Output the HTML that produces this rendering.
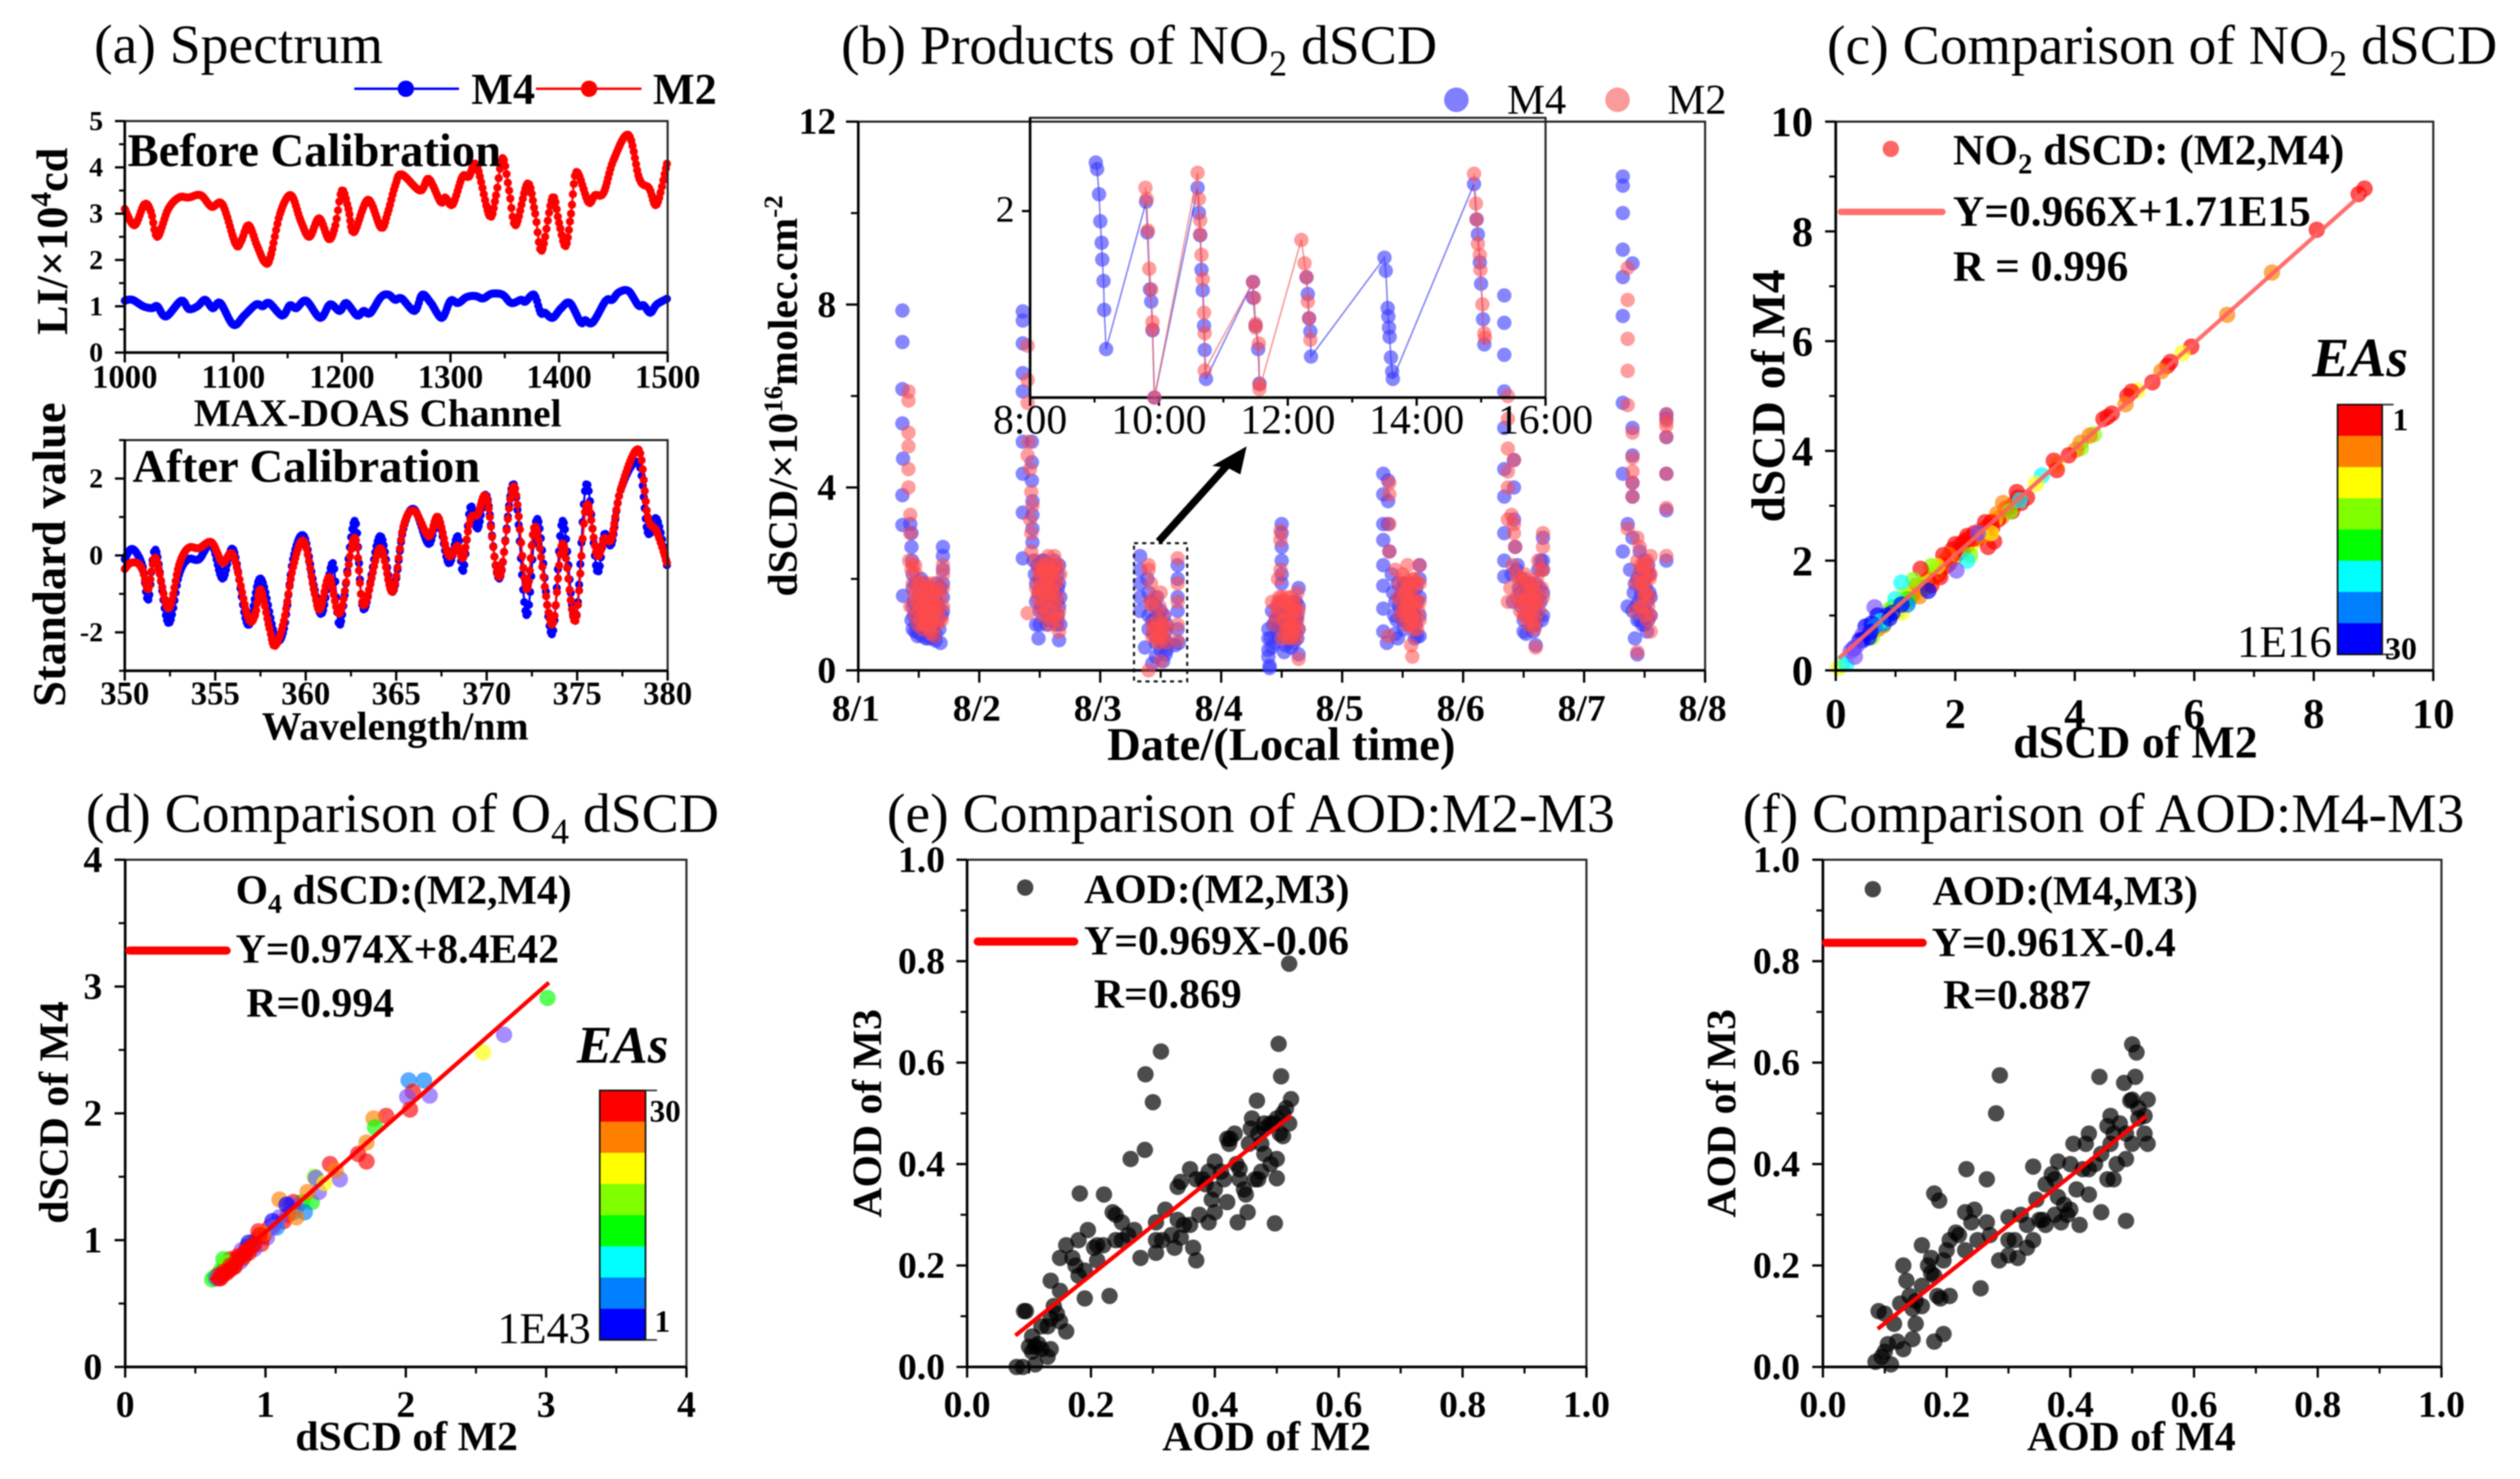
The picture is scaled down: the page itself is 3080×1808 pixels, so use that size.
<!DOCTYPE html>
<html lang="en">
<head>
<meta charset="utf-8">
<title>MAX-DOAS comparison figure</title>
<style>
html,body{margin:0;padding:0;background:#fff;}
svg{display:block;filter:blur(.7px);}
text{font-family:"Liberation Serif",serif;fill:#000;}
.r{font-weight:400;}
.b{font-weight:700;}
.title{font-size:68px;font-weight:400;}
</style>
</head>
<body>
<svg id="figure" xmlns="http://www.w3.org/2000/svg" width="3080" height="1808" viewBox="0 0 3080 1808">
<rect width="3080" height="1808" fill="#fff"/>

<g id="panelA">
<text class="title" x="115" y="77">(a) Spectrum</text>
<line x1="433" x2="561" y1="108.5" y2="108.5" stroke="#0000ff" stroke-width="3"/>
<circle cx="496" cy="108.5" r="10" fill="#0000ff"/>
<text class="b" x="576" y="127" font-size="54">M4</text>
<line x1="655" x2="784" y1="108.5" y2="108.5" stroke="#ff0000" stroke-width="3"/>
<circle cx="720" cy="108.5" r="10" fill="#ff0000"/>
<text class="b" x="798" y="127" font-size="54">M2</text>
<text class="b" font-size="54" text-anchor="middle" transform="translate(82 295) rotate(-90)">LI/×10<tspan font-size="36" dy="-20">4</tspan><tspan dy="20">cd</tspan></text>
<text class="b" font-size="57" text-anchor="middle" transform="translate(79.5 678) rotate(-90)">Standard value</text>
<text class="b" font-size="48" text-anchor="middle" x="461.6" y="521">MAX-DOAS Channel</text>
<text class="b" font-size="48.5" text-anchor="middle" x="483" y="904">Wavelength/nm</text>
</g>

<g id="panelB">
<text class="title" x="1028" y="78">(b) Products of NO<tspan font-size="44" dy="14">2</tspan><tspan dy="-14"> dSCD</tspan></text>
<circle cx="1780" cy="122" r="15" fill="#7f7fff"/>
<text class="r" x="1842" y="139" font-size="52">M4</text>
<circle cx="1977" cy="122" r="15" fill="#fa9a9a"/>
<text class="r" x="2038" y="139" font-size="52">M2</text>
<text class="b" font-size="51" text-anchor="middle" transform="translate(974 484) rotate(-90)">dSCD/×10<tspan font-size="33" dy="-18">16</tspan><tspan dy="18">molec.cm</tspan><tspan font-size="33" dy="-18">-2</tspan></text>
<text class="b" font-size="57" text-anchor="middle" x="1566" y="929">Date/(Local time)</text>
</g>

<g id="panelC">
<text class="title" x="2233" y="78">(c) Comparison of NO<tspan font-size="44" dy="14">2</tspan><tspan dy="-14"> dSCD</tspan></text>
<text class="b" font-size="58" text-anchor="middle" transform="translate(2181 484) rotate(-90)">dSCD of M4</text>
<text class="b" font-size="56" text-anchor="middle" x="2610" y="926">dSCD of M2</text>
</g>

<g id="panelD">
<text class="title" x="105" y="1017">(d) Comparison of O<tspan font-size="44" dy="14">4</tspan><tspan dy="-14"> dSCD</tspan></text>
<text class="b" font-size="51" text-anchor="middle" transform="translate(83 1360) rotate(-90)">dSCD of M4</text>
<text class="b" font-size="51" text-anchor="middle" x="497" y="1773">dSCD of M2</text>
</g>

<g id="panelE">
<text class="title" x="1084" y="1017">(e) Comparison of AOD:M2-M3</text>
<text class="b" font-size="51" text-anchor="middle" transform="translate(1077 1361) rotate(-90)">AOD of M3</text>
<text class="b" font-size="51" text-anchor="middle" x="1548" y="1773">AOD of M2</text>
</g>

<g id="panelF">
<text class="title" x="2130" y="1017">(f) Comparison of AOD:M4-M3</text>
<text class="b" font-size="51" text-anchor="middle" transform="translate(2121 1361) rotate(-90)">AOD of M3</text>
<text class="b" font-size="51" text-anchor="middle" x="2605" y="1773">AOD of M4</text>
</g>
</svg>

<script>
/* ---------- panel a data ---------- */
const beforeM2 = [[1000,3.1],[1009,2.75],[1018,3.2],[1024,3.05],[1030,2.5],[1040,3.1],[1050,3.35],[1059,3.35],[1070,3.4],[1080,3.15],[1090,3.2],[1102,2.35],[1107,2.4],[1114,2.75],[1122,2.3],[1129,1.95],[1134,2.05],[1143,3.0],[1153,3.4],[1162,2.85],[1170,2.5],[1179,2.9],[1188,2.45],[1194,2.75],[1200,3.5],[1206,3.1],[1211,2.6],[1224,3.3],[1236,2.7],[1242,3.0],[1249,3.6],[1255,3.85],[1272,3.5],[1280,3.75],[1291,3.25],[1295,3.35],[1302,3.2],[1311,3.8],[1317,3.8],[1324,4.05],[1336,2.95],[1342,3.4],[1348,4.2],[1354,3.5],[1360,2.75],[1371,3.65],[1378,3.0],[1384,2.2],[1394,3.35],[1400,2.8],[1406,2.3],[1411,3.0],[1416,3.9],[1427,3.25],[1433,3.4],[1441,3.45],[1450,4.15],[1464,4.7],[1474,3.75],[1483,3.55],[1490,3.2],[1500,4.15]];
const beforeM4 = [[1000,1.12],[1007,1.14],[1017,1.0],[1025,.96],[1030,1.0],[1038,.78],[1052,1.12],[1059,.94],[1067,1.0],[1074,1.14],[1081,.96],[1088,1.07],[1100,.6],[1110,.8],[1121,1.04],[1127,1.0],[1133,1.07],[1145,.8],[1152,1.02],[1158,.96],[1167,1.12],[1180,.75],[1189,1.04],[1198,.9],[1204,1.07],[1214,.8],[1220,.9],[1226,.85],[1236,1.2],[1243,1.25],[1249,1.14],[1255,1.17],[1267,.9],[1274,1.25],[1282,1.07],[1292,.75],[1300,1.12],[1307,1.07],[1315,1.2],[1323,1.22],[1330,1.17],[1338,1.27],[1348,1.25],[1356,1.07],[1365,1.14],[1369,1.1],[1377,1.25],[1383,.86],[1387,.86],[1394,.75],[1402,.96],[1410,1.07],[1420,.65],[1424,.7],[1431,.65],[1443,1.12],[1449,1.14],[1455,1.3],[1464,1.33],[1473,1.02],[1478,1.02],[1484,.86],[1490,1.04],[1500,1.17]];
const afterM4 = [[350,-.1],[350.3,.15],[350.6,.1],[351,-.3],[351.3,-1.15],[351.7,.15],[352.4,-1.75],[353,-.5],[353.5,-.1],[354.1,-.1],[354.8,.3],[355.4,-.6],[356,.15],[356.8,-1.8],[357.5,-.6],[358.3,-2.1],[358.8,-1.9],[359.3,-.1],[359.9,.5],[360.5,-.9],[360.9,-1.5],[361.5,-.2],[361.9,-1.8],[362.7,.9],[363.2,-1.4],[364.1,.5],[364.8,-.95],[365.4,.7],[366,1.2],[366.8,.3],[367.3,1.0],[367.9,-.2],[368.4,.5],[368.7,-.4],[369.1,1.25],[369.5,.7],[370,1.55],[370.7,-.6],[371.5,1.85],[372.2,-1.55],[372.8,.95],[373.6,-2.05],[374.2,.9],[374.9,-1.7],[375.5,1.85],[376.1,-.4],[376.5,.55],[376.9,.3],[377.4,1.7],[378.4,2.4],[378.9,.6],[379.4,.95],[380,-.35]];
const afterM2 = [[350,-.35],[350.3,-.2],[350.7,-.2],[351,-.4],[351.3,-.88],[351.7,-.06],[352.4,-1.38],[353,-.25],[353.5,.19],[354.1,.19],[354.8,.34],[355.4,-.19],[356,0],[356.8,-1.6],[357.2,-1.55],[357.5,-.88],[358,-1.9],[358.3,-2.35],[358.8,-1.7],[359.3,-.3],[359.9,.37],[360.5,-1],[360.8,-1.4],[361.3,-.56],[361.9,-1.5],[362.7,.46],[363.2,-1.3],[364.1,.19],[364.8,-.94],[365.4,.75],[366,1.16],[366.8,.5],[367.3,1.0],[367.9,0],[368.4,.25],[368.7,-.06],[369.1,.94],[369.5,1.06],[370,1.5],[370.7,-.56],[371.5,1.8],[372.2,-.88],[372.7,.75],[373.6,-1.8],[374.2,.31],[374.9,-1.7],[375.5,1.3],[376.1,0],[376.5,.44],[376.9,.44],[377.4,1.7],[378.4,2.75],[378.9,1.0],[379.4,.62],[380,-.25]];
const channelTicks = [1000,1100,1200,1300,1400,1500];
const channelLabels = ['1000','1100','1200','1300','1400','1500'];
const channelMinor = [1050,1150,1250,1350,1450];
const intensityTicks = [0,1,2,3,4,5];
const intensityLabels = ['0','1','2','3','4','5'];
const intensityMinor = [.5,1.5,2.5,3.5,4.5];
const wavelengthTicks = [350,355,360,365,370,375,380];
const wavelengthLabels = ['350','355','360','365','370','375','380'];
const wavelengthMinor = [352.5,357.5,362.5,367.5,372.5,377.5];
const standardTicks = [-2,0,2];
const standardLabels = ['-2','0','2'];
const standardMinor = [-3,-1,1,3];

/* ---------- panel b data: day fraction, dSCD ---------- */
const m4Day1 = [[.365,7.87],[.365,7.18],[.365,6.15],[.365,5.4],[.37,4.63],[.365,3.83],[.365,3.18],[.37,1.63],[.43,3.2],[.44,3.0],[.44,2.7],[.445,2.4],[.45,2.1],[.45,1.8],[.45,1.4],[.45,.9],[.47,.85],[.49,.75],[.5,1.2],[.5,1.6],[.52,2],[.54,1.4],[.55,.95],[.56,.7],[.58,1.7],[.6,1.2],[.62,.75],[.64,.65],[.65,1.5],[.68,.6],[.7,2.7],[.7,2.5],[.7,2.2],[.7,1.9],[.7,1.6],[.7,1.3],[.6,1.5],[.55,1.8],[.5,.9],[.44,1.1],[.46,1.5],[.46,1.2],[.47,1.9],[.48,1.0],[.48,1.4],[.49,.85],[.51,1.3],[.51,.8],[.52,1.6],[.52,1.1],[.53,.75],[.54,1.9],[.54,.9],[.55,1.3],[.56,1.6],[.56,1.1],[.57,.85],[.58,1.3],[.58,.7],[.59,1.6],[.6,.9],[.61,1.8],[.61,.7],[.62,1.2],[.63,1.6],[.63,1.0],[.64,.8],[.65,1.9],[.65,1.1],[.66,1.4],[.67,.9],[.68,1.8],[.69,1.2]];
const m4Day2 = [[.36,7.85],[.36,7.65],[.36,7.15],[.36,6.5],[.36,6.1],[.36,5.0],[.36,4.3],[.36,3.45],[.36,2.45],[.435,5.0],[.435,4.55],[.435,4.15],[.44,3.7],[.44,3.4],[.44,3.1],[.44,2.8],[.45,2.4],[.46,2.1],[.47,1.9],[.47,1.5],[.47,1.0],[.49,.7],[.5,1.3],[.5,2.0],[.52,2.4],[.53,1.6],[.55,1.9],[.56,1.0],[.57,2.3],[.58,1.5],[.6,2.0],[.6,1.2],[.62,2.4],[.63,1.7],[.64,1.0],[.65,2.1],[.66,.66],[.66,1.4],[.67,1.0],[.48,2.3],[.49,1.7],[.5,1.0],[.51,2.2],[.52,1.4],[.53,2.0],[.54,1.3],[.54,2.4],[.55,1.5],[.56,2.2],[.57,1.7],[.58,2.0],[.58,1.1],[.59,2.3],[.6,1.6],[.61,2.2],[.61,1.4],[.62,1.9],[.62,1.1],[.63,2.2],[.64,1.5],[.65,1.8],[.65,1.2],[.66,2.3],[.66,1.9],[.67,1.6]];
const m4Day3 = [[.33,2.5],[.33,2.2],[.33,1.9],[.33,1.6],[.33,1.3],[.39,2.0],[.4,1.7],[.4,1.2],[.4,.9],[.37,.5],[.43,.15],[.46,.3],[.46,.6],[.45,1.1],[.47,1.6],[.48,.9],[.5,.45],[.5,1.3],[.52,.2],[.54,.35],[.55,1.0],[.56,.6],[.64,2.3],[.64,2.0],[.64,1.6],[.64,1.3],[.64,.9],[.65,.6],[.62,.55],[.42,1.5],[.43,1.1],[.44,.8],[.46,1.4],[.48,1.2],[.49,.7],[.51,1.0],[.52,.7],[.53,1.2],[.53,.55],[.54,.85],[.55,.45]];
const m4Day4 = [[.39,.9],[.39,.7],[.39,.45],[.39,.3],[.4,.1],[.4,.05],[.5,3.2],[.5,3.0],[.5,2.7],[.5,2.4],[.5,2.1],[.5,1.9],[.5,1.5],[.42,1.3],[.43,1.0],[.44,.6],[.46,.85],[.47,1.4],[.49,1.2],[.52,.4],[.53,.8],[.55,1.3],[.56,.65],[.58,1.1],[.6,1.5],[.6,.6],[.62,1.1],[.64,1.8],[.64,1.4],[.64,.9],[.64,.35],[.41,.7],[.42,.5],[.45,1.1],[.47,.75],[.48,1.0],[.51,.9],[.52,1.2],[.53,.55],[.54,1.0],[.55,.75],[.57,1.3],[.57,.85],[.58,.5],[.59,.9],[.6,1.2],[.61,.8],[.62,1.5],[.63,.7],[.63,1.2]];
const m4Day5 = [[.34,4.3],[.34,3.85],[.34,3.2],[.34,2.85],[.34,2.3],[.34,1.85],[.34,1.35],[.34,.85],[.38,4.15],[.38,3.7],[.38,3.2],[.39,2.6],[.37,.6],[.41,2.1],[.42,1.7],[.43,1.2],[.44,.8],[.46,1.9],[.47,1.4],[.5,1.7],[.5,1.1],[.52,1.9],[.53,1.4],[.55,1.0],[.56,1.6],[.58,1.9],[.59,1.2],[.6,.7],[.62,1.5],[.64,2.3],[.64,2.0],[.64,1.6],[.64,1.2],[.64,.75],[.44,1.5],[.45,1.1],[.46,.7],[.48,1.6],[.49,1.2],[.5,1.4],[.51,1.9],[.51,.9],[.52,1.5],[.53,1.1],[.54,1.7],[.54,1.3],[.55,1.5],[.56,1.2],[.57,1.8],[.57,1.4],[.58,1.0],[.59,1.6],[.6,1.2],[.61,1.8],[.61,1.0],[.62,.75]];
const m4Day6 = [[.34,8.2],[.34,7.6],[.34,6.9],[.34,6.1],[.34,5.3],[.34,4.4],[.34,3.8],[.34,3.0],[.34,2.4],[.34,2.05],[.42,4.6],[.42,4.0],[.42,3.3],[.43,2.7],[.44,2.2],[.46,1.8],[.48,1.4],[.5,1.1],[.5,.85],[.52,.8],[.53,1.4],[.55,1.9],[.56,1.2],[.58,.85],[.6,1.6],[.6,.55],[.62,2.2],[.64,1.5],[.65,1.1],[.66,2.9],[.66,2.4],[.66,2.2],[.66,1.7],[.66,1.2],[.4,2.1],[.41,1.5],[.45,2.3],[.47,1.7],[.49,2.0],[.5,1.5],[.51,1.9],[.52,1.2],[.53,1.8],[.54,1.6],[.55,1.3],[.56,1.7],[.57,1.5],[.57,1.0],[.58,1.6],[.59,1.2],[.6,1.9],[.6,1.0],[.61,1.5],[.62,1.2],[.63,1.8],[.64,2.4]];
const m4Day7 = [[.32,10.8],[.32,10.6],[.32,10],[.32,9.2],[.32,8.6],[.32,7.75],[.32,5.85],[.32,4.3],[.32,2.6],[.4,8.9],[.4,5.3],[.4,4.7],[.4,4.1],[.4,3.8],[.36,3.2],[.4,2.9],[.36,1.4],[.38,2.2],[.4,1.3],[.42,.7],[.42,1.9],[.44,.35],[.44,1.1],[.46,2.6],[.47,1.7],[.48,1.0],[.5,2.0],[.51,1.3],[.52,.85],[.53,2.3],[.54,1.7],[.55,1.2],[.68,5.6],[.68,5.5],[.68,5.1],[.68,4.3],[.68,3.5],[.68,2.4],[.41,1.7],[.43,1.4],[.44,2.0],[.45,1.5],[.46,1.1],[.47,2.2],[.48,1.6],[.49,1.3],[.5,2.4],[.5,1.0],[.51,1.8],[.52,2.1],[.52,1.5],[.53,1.1],[.54,2.1],[.55,1.6]];
const m2Day1 = [[.415,6.1],[.415,5.9],[.415,5.2],[.415,4.9],[.415,4.4],[.415,4.0],[.43,3.4],[.43,3.0],[.42,2.4],[.44,2.2],[.45,1.9],[.43,1.4],[.47,2.3],[.49,1.7],[.5,1.3],[.52,1.9],[.54,1.0],[.55,1.5],[.57,1.9],[.58,1.1],[.6,.8],[.6,1.5],[.62,1.9],[.64,1.3],[.63,.75],[.66,1.8],[.7,2.3],[.7,2.1],[.7,1.8],[.7,1.4],[.69,1.1],[.55,1.2],[.58,1.4],[.6,1.2],[.45,2.3],[.46,1.7],[.47,1.2],[.48,2.1],[.48,1.5],[.49,1.0],[.5,1.9],[.5,1.5],[.51,1.1],[.52,1.6],[.53,1.3],[.53,.9],[.54,1.7],[.55,1.3],[.56,1.6],[.56,1.0],[.57,1.4],[.58,1.8],[.59,.9],[.6,1.7],[.6,1.0],[.61,1.3],[.62,1.6],[.62,1.1],[.63,1.4],[.64,1.7],[.65,1.0],[.66,1.4],[.67,1.1],[.68,1.6]];
const m2Day2 = [[.4,7.1],[.4,6.35],[.4,5.85],[.41,5.0],[.4,4.7],[.42,4.4],[.43,3.9],[.44,3.6],[.42,3.3],[.43,3.0],[.43,2.6],[.4,1.25],[.47,2.4],[.49,2.0],[.5,1.7],[.51,2.1],[.52,1.2],[.53,2.3],[.55,1.9],[.55,1.5],[.57,2.5],[.58,2.1],[.58,1.0],[.6,1.8],[.6,1.3],[.62,2.5],[.62,2.2],[.63,1.5],[.64,1.9],[.65,1.1],[.66,.85],[.67,2.1],[.47,1.8],[.54,1.9],[.56,2.2],[.48,1.6],[.49,2.2],[.5,1.4],[.51,1.8],[.52,2.2],[.52,1.7],[.53,1.4],[.54,2.2],[.55,2.3],[.56,1.7],[.56,1.2],[.57,2.0],[.58,1.7],[.59,2.2],[.59,1.5],[.6,2.1],[.61,1.7],[.61,1.1],[.62,1.9],[.63,2.3],[.64,1.2],[.65,2.3],[.65,1.6],[.66,1.3]];
const m2Day3 = [[.4,2.3],[.4,2.2],[.43,1.4],[.43,1.0],[.43,.75],[.5,1.7],[.5,.8],[.5,.2],[.45,1.6],[.47,1.1],[.48,.6],[.52,1.2],[.55,.9],[.55,.6],[.64,2.45],[.64,1.9],[.64,1.5],[.64,1.0],[.64,.65],[.4,0],[.44,.9],[.46,.7],[.47,.9],[.49,1.4],[.49,.7],[.51,1.0],[.52,.7],[.53,1.0],[.42,1.9],[.41,1.5]];
const m2Day4 = [[.49,3.05],[.49,2.85],[.49,2.2],[.47,2.0],[.42,1.5],[.44,1.0],[.46,1.4],[.48,1.6],[.5,.7],[.52,1.5],[.53,1.1],[.54,1.6],[.56,.9],[.57,1.3],[.58,1.6],[.6,.8],[.61,1.3],[.63,1.7],[.64,.9],[.64,.25],[.45,1.2],[.47,1.5],[.49,1.3],[.5,1.6],[.51,1.1],[.52,.8],[.53,1.5],[.54,.9],[.55,1.2],[.55,.7],[.56,1.4],[.57,1.0],[.58,.7],[.59,1.2],[.59,.9],[.6,1.5],[.61,1.0],[.62,.7],[.62,1.4],[.63,1.1],[.64,1.3]];
const m2Day5 = [[.39,4.1],[.39,3.85],[.39,3.2],[.39,2.6],[.38,.75],[.44,2.2],[.46,1.6],[.48,1.2],[.5,2.1],[.52,1.7],[.52,1.2],[.54,2.3],[.54,1.5],[.56,1.9],[.56,1.0],[.58,1.5],[.59,.9],[.6,2.0],[.6,1.4],[.57,.55],[.58,.3],[.64,2.3],[.64,1.9],[.64,1.5],[.64,1.1],[.47,1.9],[.49,1.5],[.5,1.3],[.51,1.7],[.52,2.0],[.53,1.4],[.53,1.0],[.54,1.8],[.55,1.3],[.55,1.6],[.56,1.4],[.57,1.8],[.57,1.2],[.58,2.0],[.58,1.1],[.59,1.6],[.6,1.1],[.61,1.5],[.62,1.9],[.62,.9],[.63,1.3]];
const m2Day6 = [[.37,6.0],[.37,5.5],[.37,4.85],[.37,4.35],[.37,4.0],[.37,3.3],[.42,4.6],[.42,3.2],[.42,3.0],[.41,2.3],[.37,1.5],[.44,2.1],[.46,1.5],[.48,1.9],[.5,1.2],[.52,2.0],[.52,1.5],[.54,1.0],[.55,1.7],[.57,1.3],[.58,1.9],[.59,.9],[.6,1.5],[.6,.5],[.62,2.4],[.63,1.3],[.66,3.0],[.66,2.7],[.66,2.2],[.66,1.6],[.4,3.4],[.39,1.8],[.43,2.7],[.44,1.6],[.46,2.0],[.47,1.3],[.49,1.5],[.5,1.7],[.51,2.1],[.51,1.2],[.53,1.6],[.54,1.9],[.55,1.3],[.56,1.6],[.56,1.1],[.57,1.8],[.58,1.4],[.58,1.0],[.59,1.7],[.6,1.1],[.61,2.0],[.62,1.5],[.64,2.2],[.65,1.8]];
const m2Day7 = [[.36,8.8],[.36,8.1],[.36,7.25],[.36,6.55],[.36,5.8],[.4,5.2],[.4,4.65],[.4,4.35],[.4,4.1],[.4,3.8],[.36,3.1],[.44,2.9],[.44,.4],[.42,1.3],[.44,2.4],[.46,2.7],[.47,1.9],[.48,1.4],[.49,2.2],[.5,1.7],[.52,2.4],[.52,1.1],[.54,2.0],[.55,2.5],[.55,.85],[.68,5.6],[.68,5.45],[.68,5.35],[.68,5.1],[.68,4.3],[.68,3.55],[.68,2.5],[.43,1.9],[.45,2.1],[.46,1.4],[.47,2.3],[.48,1.9],[.49,1.6],[.5,2.3],[.5,1.2],[.51,2.0],[.52,1.7],[.53,2.2],[.53,1.4],[.54,1.6],[.55,2.1],[.55,1.2]];
const m4Days = [m4Day1,m4Day2,m4Day3,m4Day4,m4Day5,m4Day6,m4Day7];
const m2Days = [m2Day1,m2Day2,m2Day3,m2Day4,m2Day5,m2Day6,m2Day7];
const dateTicks = [0,1,2,3,4,5,6,7];
const dateLabels = ['8/1','8/2','8/3','8/4','8/5','8/6','8/7','8/8'];
const dateMinor = [.5,1.5,2.5,3.5,4.5,5.5,6.5];
const dscdTicks = [0,4,8,12];
const dscdLabels = ['0','4','8','12'];
const dscdMinor = [2,6,10];

/* inset: local hour, dSCD; each run is one connected trace */
const insetM4Runs = [[[9.02,2.52],[9.04,2.45],[9.07,2.18],[9.09,1.89],[9.11,1.66],[9.12,1.48],[9.14,1.25],[9.15,.94],[9.18,.52],[9.8,2.1],[9.82,1.77],[9.86,1.16],[9.88,1.03],[9.9,.72],[9.93,0],[10.6,2.25],[10.62,1.98],[10.64,1.74],[10.66,1.37],[10.68,1.15],[10.7,.77],[10.71,.51],[10.73,.2],[11.46,1.24],[11.46,1.07],[11.5,.77],[11.54,.52],[11.56,.15]],[[12.29,1.29],[12.31,1.11],[12.33,.85],[12.35,.71],[12.36,.44],[13.5,1.5],[13.52,1.36],[13.55,.96],[13.56,.87],[13.57,.75],[13.58,.65],[13.6,.43],[13.62,.28],[13.63,.2],[14.89,2.29],[14.93,1.91],[14.95,1.75],[14.98,1.45],[15,1.22],[15.03,.84],[15.05,.57]]];
const insetM2Runs = [[[9.79,2.25],[9.81,2.13],[9.83,1.79],[9.85,1.38],[9.88,1.16],[9.9,.81],[9.9,.73],[9.93,0],[10.6,2.41],[10.62,2.13],[10.64,1.9],[10.64,1.75],[10.66,1.53],[10.68,1.27],[10.7,.91],[10.71,.69],[10.71,.29],[11.46,1.24],[11.48,1.07],[11.5,.79],[11.5,.75],[11.55,.58],[11.56,.14],[11.56,.09],[12.21,1.69],[12.26,1.44],[12.29,1.29],[12.31,1.03],[12.33,.85],[12.35,.62]],[[14.89,2.4],[14.92,2.08],[14.93,1.91],[14.95,1.65],[14.98,1.53],[14.99,1.37],[15.02,1.0],[15.05,.69],[15.06,.64]]];
const hourTicks = [8,10,12,14,16];
const hourLabels = ['8:00','10:00','12:00','14:00','16:00'];
const hourMinor = [9,11,13,15];
const insetYTicks = [2];
const insetYLabels = ['2'];

/* ---------- colour scale shared by c and d (last entry: overlapped look) ---------- */
const eaColors = ['#0000ff','#0080ff','#00ffff','#00ff00','#80ff00','#ffff00','#ff8000','#ff0000','#7a50ff'];

/* ---------- panel c data: M2, M4, colour class ---------- */
const no2Band = [[3.2,3.15,7],[3.05,3.15,7],[2.95,3.0,6],[2.85,2.95,7],[2.78,2.8,6],[2.72,2.75,7],[2.66,2.75,5],[2.62,2.6,7],[2.55,2.62,7],[2.48,2.55,7],[2.42,2.55,6],[2.36,2.4,7],[2.32,2.5,7],[2.28,2.3,5],[2.22,2.4,7],[2.18,2.25,6],[2.12,2.2,7],[2.08,2.15,7],[2.02,2.15,6],[1.98,2.05,7],[1.94,2.0,5],[1.9,1.95,7],[1.84,2.0,6],[1.8,1.9,6],[1.76,1.85,5],[1.72,1.75,7],[1.68,1.8,4],[1.62,1.7,6],[1.58,1.65,5],[1.54,1.65,7],[1.5,1.62,5],[1.46,1.55,4],[1.42,1.5,6],[1.38,1.45,5],[1.34,1.5,4],[1.3,1.35,5],[1.26,1.35,3],[1.22,1.25,2],[1.18,1.35,4],[1.14,1.2,5],[1.08,1.2,4],[1.04,1.1,2],[1.0,1.1,5],[.96,1.15,3],[.92,1.0,5],[.88,1.0,2],[.84,.92,5],[.8,.82,6],[.75,.8,4]];
const no2Points = [[8.85,8.78,7],[8.75,8.68,7],[8.05,8.03,7],[7.3,7.25,6],[6.55,6.48,6],[5.95,5.9,7],[5.8,5.78,5],[5.6,5.62,7],[5.55,5.55,7],[5.45,5.45,6],[5.3,5.25,7],[5.05,5.1,5],[4.95,5.08,7],[4.88,5.0,7],[4.85,4.85,6],[4.62,4.68,7],[4.55,4.62,7],[4.48,4.58,7],[4.32,4.3,4],[4.25,4.28,6],[4.1,4.15,6],[4.1,4.05,4],[4.02,4.02,6],[3.9,3.92,7],[3.7,3.75,5],[3.65,3.82,7],[3.7,3.65,7],[3.45,3.55,2],[3.35,3.4,5],[3.1,3.05,7],[3.03,3.25,7],[3,3.05,7],[2.95,2.9,7],[2.8,3.05,6],[2.92,2.9,4],[3.08,3.1,2],[2.7,2.85,6],[2.6,2.7,7],[2.5,2.7,7],[2.3,2.4,7],[2.55,2.25,7],[2.65,2.35,7],[2.45,2.45,6],[2.6,2.5,5],[2.2,2.45,7],[2.15,2.35,7],[2.1,2.3,7],[2,2.3,7],[2.05,2.15,7],[1.95,2.2,7],[2.25,2.1,4],[2.2,2.0,2],[1.9,2.1,6],[1.8,2.1,7],[1.85,1.9,7],[1.75,1.7,7],[1.7,1.9,5],[1.6,1.9,4],[1.42,1.85,7],[1.5,1.5,4],[1.6,1.55,7],[1.35,1.55,6],[1.3,1.4,6],[1.4,1.35,6],[1.3,1.65,4],[1.15,1.4,5],[1.1,1.05,5],[1.1,1.6,2],[1.2,1.3,3],[1.0,1.3,2],[.9,1.1,4],[.7,.75,6],[.6,.6,4],[.1,.1,2],[.05,.05,5],[.18,.12,2],[2.02,1.82,8],[2.38,2.5,8],[1.55,1.45,0],[1.2,1.2,1],[1.1,1.2,0],[.95,1.05,0],[.8,.85,1],[.85,1.0,0],[.65,1.15,8],[.7,1,0],[.75,.9,2],[.6,.85,0],[.5,.8,0],[.55,.6,0],[.45,.65,8],[.4,.55,0],[.3,.4,0],[.25,.35,8],[.32,.25,8],[.9,.95,0],[.65,.8,1],[.58,.7,0],[.45,.55,0],[.35,.45,8]];
const no2Slope = .966;
const no2Intercept = .171;
const no2LineX = [.05,8.85];
const cTicks = [0,2,4,6,8,10];
const cLabels = ['0','2','4','6','8','10'];
const cMinor = [1,3,5,7,9];

/* ---------- panel d data ---------- */
const o4Band = [[1.26,1.3,3],[1.22,1.26,8],[1.2,1.22,1],[1.16,1.2,7],[1.13,1.15,7],[1.1,1.18,8],[1.06,1.12,8],[1.03,1.1,7],[1.0,1.05,6],[1.01,1.02,8],[.98,1.03,7],[.93,1.0,8],[.91,.95,7],[.89,.93,5],[.87,.95,1],[.85,.88,3],[.83,.92,8],[.8,.87,7],[.78,.8,8],[.75,.85,7],[.74,.77,4],[.71,.8,3],[.69,.74,8],[.68,.76,3],[.66,.7,8],[.64,.71,3]];
const o4Points = [[3.01,2.91,3],[2.7,2.62,8],[2.55,2.48,5],[2.17,2.14,8],[2.13,2.26,1],[2.02,2.26,1],[2.05,2.17,7],[2.01,2.13,8],[2.03,2.03,7],[1.86,1.98,7],[1.77,1.96,6],[1.78,1.89,3],[1.72,1.77,6],[1.72,1.62,7],[1.66,1.68,7],[1.53,1.48,8],[1.46,1.6,7],[1.5,1.55,6],[1.35,1.5,4],[1.36,1.49,8],[1.33,1.3,3],[1.38,1.38,8],[1.42,1.45,5],[1.1,1.32,6],[1.3,1.38,6],[1.28,1.22,1],[1.2,1.3,7],[1.18,1.28,8],[1.15,1.28,0],[1.22,1.18,6],[1.05,1.15,0],[1.08,1.1,1],[1.05,1.1,8],[.97,.97,7],[.95,1.07,7],[.98,1.05,6],[.92,.93,8],[.88,.98,0],[.85,.9,8],[.82,.83,8],[.9,.95,7],[.86,.9,7],[.78,.82,7],[.7,.85,3],[.72,.82,4],[.75,.8,7],[.7,.75,7],[.68,.72,8],[.66,.72,7],[.62,.69,3],[.65,.7,8],[.67,.7,7],[.72,.74,7],[.76,.78,7],[.8,.85,7],[.84,.86,7],[.88,.9,7],[.92,.97,7],[.96,1.04,7],[.74,.76,7],[.7,.73,7],[.68,.7,7],[.78,.79,7],[.82,.87,7],[.86,.92,7]];
const o4Slope = .974;
const o4Intercept = .09;
const o4LineX = [.61,3.02];
const dTicks = [0,1,2,3,4];
const dLabels = ['0','1','2','3','4'];
const dMinor = [.5,1.5,2.5,3.5];

/* ---------- panel e/f data ---------- */
const aodM2M3 = [[.52,.795],[.503,.637],[.507,.573],[.313,.622],[.288,.577],[.3,.522],[.287,.428],[.264,.41],[.182,.342],[.221,.34],[.523,.528],[.468,.525],[.46,.49],[.458,.47],[.5,.372],[.497,.283],[.437,.285],[.453,.305],[.45,.34],[.447,.35],[.42,.45],[.425,.45],[.432,.46],[.423,.44],[.435,.4],[.44,.39],[.44,.37],[.47,.37],[.465,.37],[.475,.385],[.49,.4],[.5,.41],[.48,.42],[.475,.44],[.48,.47],[.49,.48],[.5,.49],[.51,.5],[.515,.51],[.52,.48],[.51,.455],[.505,.46],[.495,.48],[.48,.48],[.47,.46],[.455,.44],[.36,.39],[.345,.365],[.34,.355],[.37,.37],[.38,.37],[.385,.36],[.39,.385],[.4,.405],[.41,.385],[.415,.37],[.4,.35],[.395,.33],[.4,.305],[.39,.285],[.42,.325],[.375,.3],[.36,.28],[.365,.235],[.37,.21],[.35,.28],[.34,.29],[.345,.255],[.335,.235],[.33,.26],[.315,.25],[.305,.25],[.305,.225],[.28,.215],[.305,.285],[.32,.31],[.27,.27],[.26,.26],[.25,.285],[.235,.305],[.24,.3],[.22,.24],[.24,.25],[.25,.25],[.21,.24],[.205,.235],[.21,.21],[.195,.27],[.18,.25],[.16,.24],[.15,.215],[.17,.215],[.175,.2],[.18,.18],[.19,.19],[.19,.135],[.23,.14],[.135,.17],[.15,.15],[.14,.12],[.145,.105],[.15,.09],[.16,.07],[.135,.095],[.12,.08],[.13,.08],[.095,.11],[.092,.11],[.105,.06],[.1,.04],[.11,.04],[.12,.035],[.13,.02],[.135,.035],[.115,.045],[.105,.03],[.08,0],[.09,0],[.11,.005]];
const aodM4M3 = [[.5,.636],[.507,.62],[.505,.572],[.447,.572],[.487,.56],[.286,.575],[.28,.5],[.5,.527],[.497,.525],[.525,.527],[.465,.495],[.46,.475],[.43,.46],[.405,.44],[.425,.44],[.51,.51],[.52,.495],[.51,.49],[.52,.46],[.525,.44],[.5,.44],[.49,.41],[.49,.46],[.48,.48],[.47,.46],[.465,.44],[.475,.4],[.46,.37],[.47,.37],[.45,.42],[.44,.4],[.43,.39],[.42,.39],[.4,.4],[.38,.405],[.375,.37],[.36,.36],[.37,.38],[.38,.335],[.34,.395],[.232,.39],[.265,.37],[.18,.342],[.188,.328],[.43,.34],[.45,.305],[.49,.288],[.415,.28],[.41,.35],[.39,.32],[.4,.31],[.395,.3],[.385,.285],[.375,.3],[.355,.29],[.36,.28],[.35,.29],[.345,.33],[.34,.25],[.33,.235],[.315,.215],[.3,.22],[.31,.25],[.3,.25],[.3,.295],[.32,.3],[.33,.28],[.285,.21],[.255,.155],[.245,.31],[.23,.305],[.24,.285],[.265,.285],[.27,.26],[.25,.25],[.22,.26],[.215,.265],[.205,.25],[.23,.23],[.2,.23],[.195,.21],[.16,.24],[.17,.2],[.175,.215],[.175,.185],[.18,.18],[.13,.2],[.135,.17],[.185,.14],[.19,.135],[.205,.14],[.16,.16],[.15,.13],[.16,.12],[.14,.14],[.125,.125],[.145,.115],[.1,.105],[.09,.11],[.115,.085],[.15,.085],[.145,.055],[.13,.035],[.18,.05],[.195,.065],[.12,.05],[.105,.045],[.1,.03],[.095,.02],[.085,.01],[.11,.005]];
const fitLineEX = [.078,.523];
const fitLineEY = [.062,.496];
const fitLineFX = [.0886,.523];
const fitLineFY = [.075,.495];
const aodTicks = [0,.2,.4,.6,.8,1];
const aodLabels = ['0.0','0.2','0.4','0.6','0.8','1.0'];
const aodMinor = [.1,.3,.5,.7,.9];

/* ---------- helpers ---------- */
const NS = 'http://www.w3.org/2000/svg';
function add(parent, tag, attrs, name) {
  const el = document.createElementNS(NS, tag);
  for (const k in attrs) el.setAttribute(k, attrs[k]);
  
  
  parent.appendChild(el);
  return el;
}
function label(parent, x, y, str, size, anchor, weight, name, style) {
  const el = add(parent, 'text', {x: x, y: y, 'font-size': size, 'text-anchor': anchor, 'font-weight': weight}, name);
  if (style) el.setAttribute('font-style', style);
  el.textContent = str;
  return el;
}
function scales(box) {
  return {
    x: v => box.L + (v - box.x0) / (box.x1 - box.x0) * (box.R - box.L),
    y: v => box.B - (v - box.y0) / (box.y1 - box.y0) * (box.B - box.T)
  };
}
function axes(g, box, c) {
  const s = scales(box);
  add(g, 'rect', {x: box.L, y: box.T, width: box.R - box.L, height: box.B - box.T, fill: 'none', stroke: c.frame || '#222', 'stroke-width': 2.5}, 'plot-frame');
  add(g, 'line', {x1: box.L, x2: box.L, y1: box.T, y2: box.B, stroke: '#000', 'stroke-width': 3.2}, 'y-axis-line');
  add(g, 'line', {x1: box.L, x2: box.R, y1: box.B, y2: box.B, stroke: '#000', 'stroke-width': 3.2}, 'x-axis-line');
  const maj = c.major || 13, min = c.minor || 8;
  c.xTicks.forEach((v, i) => {
    add(g, 'line', {x1: s.x(v), x2: s.x(v), y1: box.B, y2: box.B + maj, stroke: '#000', 'stroke-width': 2.8}, 'x-tick');
    label(g, s.x(v) + (c.xShift || 0), c.xBase, c.xLabels[i], c.xSize, 'middle', c.weight || 700, 'x-tick-label');
  });
  c.xMinor.forEach(v => {
    add(g, 'line', {x1: s.x(v), x2: s.x(v), y1: box.B, y2: box.B + min, stroke: '#000', 'stroke-width': 2.5}, 'x-minor-tick');
  });
  c.yTicks.forEach((v, i) => {
    add(g, 'line', {x1: box.L - maj, x2: box.L, y1: s.y(v), y2: s.y(v), stroke: '#000', 'stroke-width': 2.8}, 'y-tick');
    label(g, c.yRight, s.y(v) + c.yDrop, c.yLabels[i], c.ySize, 'end', c.weight || 700, 'y-tick-label');
  });
  c.yMinor.forEach(v => {
    add(g, 'line', {x1: box.L - min, x2: box.L, y1: s.y(v), y2: s.y(v), stroke: '#000', 'stroke-width': 2.5}, 'y-minor-tick');
  });
  return s;
}
/* draws a trace through the read values and places instrument-style dots at even x spacing along it */
function spectrum(g, s, data, color, name) {
  const pts = data.map(p => [s.x(p[0]), s.y(p[1])]);
  let d = 'M' + pts[0][0].toFixed(1) + ' ' + pts[0][1].toFixed(1);
  let dots = '';
  const step = 1.45;
  for (let i = 0; i < pts.length - 1; i++) {
    const p0 = pts[Math.max(0, i - 1)], p1 = pts[i], p2 = pts[i + 1], p3 = pts[Math.min(pts.length - 1, i + 2)];
    const c1x = p1[0] + (p2[0] - p0[0]) / 6, c1y = p1[1] + (p2[1] - p0[1]) / 6;
    const c2x = p2[0] - (p3[0] - p1[0]) / 6, c2y = p2[1] - (p3[1] - p1[1]) / 6;
    d += 'C' + c1x.toFixed(1) + ' ' + c1y.toFixed(1) + ' ' + c2x.toFixed(1) + ' ' + c2y.toFixed(1) + ' ' + p2[0].toFixed(1) + ' ' + p2[1].toFixed(1);
    const n = Math.max(1, Math.round((p2[0] - p1[0]) / step));
    for (let k = 0; k < n; k++) {
      const t = k / n, u = 1 - t;
      const bx = u * u * u * p1[0] + 3 * u * u * t * c1x + 3 * u * t * t * c2x + t * t * t * p2[0];
      const by = u * u * u * p1[1] + 3 * u * u * t * c1y + 3 * u * t * t * c2y + t * t * t * p2[1];
      dots += 'M' + bx.toFixed(1) + ' ' + by.toFixed(1) + 'h0';
    }
  }
  add(g, 'path', {d: d, fill: 'none', stroke: color, 'stroke-width': 2.5}, name + '-line');
  add(g, 'path', {d: dots, fill: 'none', stroke: color, 'stroke-width': 10, 'stroke-linecap': 'round'}, name + '-points');
}
function colorbar(g, x, y, w, h, colors, name) {
  const n = colors.length;
  colors.forEach((col, i) => {
    add(g, 'rect', {x: x, y: y + i * h / n, width: w, height: h / n + .5, fill: col}, 'colorbar-band');
  });
  add(g, 'rect', {x: x, y: y, width: w, height: h, fill: 'none', stroke: '#111', 'stroke-width': 2}, name);
  add(g, 'line', {x1: x + w, x2: x + w + 14, y1: y, y2: y, stroke: '#333', 'stroke-width': 2}, 'colorbar-tick');
  add(g, 'line', {x1: x + w, x2: x + w + 14, y1: y + h, y2: y + h, stroke: '#333', 'stroke-width': 2}, 'colorbar-tick');
}
function scatter(g, s, pts, r, colorOf, op, name) {
  pts.forEach(p => {
    add(g, 'circle', {cx: s.x(p[0]), cy: s.y(p[1]), r: r, fill: colorOf(p), 'fill-opacity': op}, name);
  });
}

/* ---------- panel a ---------- */
const gA = document.getElementById('panelA');
const boxA1 = {L: 152.5, R: 816, T: 148, B: 431, x0: 1000, x1: 1500, y0: 0, y1: 5};
const sA1 = scales(boxA1);
spectrum(gA, sA1, beforeM2, '#ff0000', 'before-m2');
spectrum(gA, sA1, beforeM4, '#0000ff', 'before-m4');
axes(gA, boxA1, {xTicks: channelTicks, xLabels: channelLabels, xMinor: channelMinor, yTicks: intensityTicks, yLabels: intensityLabels, yMinor: intensityMinor, xBase: 474, xSize: 40, yRight: 126, yDrop: 11, ySize: 34, major: 12, minor: 7});
label(gA, 156, 203, 'Before Calibration', 57, 'start', 700, 'before-calibration-label');
const boxA2 = {L: 152.5, R: 816, T: 538, B: 820, x0: 350, x1: 380, y0: -3, y1: 3};
const sA2 = scales(boxA2);
spectrum(gA, sA2, afterM4, '#0000ff', 'after-m4');
spectrum(gA, sA2, afterM2, '#ff0000', 'after-m2');
axes(gA, boxA2, {xTicks: wavelengthTicks, xLabels: wavelengthLabels, xMinor: wavelengthMinor, yTicks: standardTicks, yLabels: standardLabels, yMinor: standardMinor, xBase: 861, xSize: 40, yRight: 126, yDrop: 11, ySize: 34, major: 12, minor: 7});
label(gA, 162, 589, 'After Calibration', 57, 'start', 700, 'after-calibration-label');

/* ---------- panel b ---------- */
const gB = document.getElementById('panelB');
const boxB = {L: 1049, R: 2084, T: 148.7, B: 819.5, x0: 0, x1: 7, y0: 0, y1: 12};
const sB = axes(gB, boxB, {xTicks: dateTicks, xLabels: dateLabels, xMinor: dateMinor, yTicks: dscdTicks, yLabels: dscdLabels, yMinor: dscdMinor, xBase: 881, xSize: 46, xShift: -3, yRight: 1022, yDrop: 15, ySize: 46, major: 15, minor: 9});
m4Days.forEach((day, i) => {
  day.forEach(p => {
    add(gB, 'circle', {cx: sB.x(i + p[0]), cy: sB.y(p[1]), r: 8.8, fill: '#3c3cff', 'fill-opacity': .62}, 'm4-point');
  });
});
m2Days.forEach((day, i) => {
  day.forEach(p => {
    add(gB, 'circle', {cx: sB.x(i + p[0]), cy: sB.y(p[1]), r: 8.8, fill: '#ff4a4a', 'fill-opacity': .55}, 'm2-point');
  });
});
add(gB, 'rect', {x: 1386, y: 664, width: 65, height: 169, fill: 'none', stroke: '#111', 'stroke-width': 2.5, 'stroke-dasharray': '5 5'}, 'selection-box');
add(gB, 'line', {x1: 1416, y1: 662, x2: 1506, y2: 562, stroke: '#000', 'stroke-width': 9}, 'zoom-arrow-shaft');
add(gB, 'polygon', {points: '1523.7,545.6 1481.6,569.5 1500.8,572 1516,580', fill: '#000'}, 'zoom-arrow-head');
const boxI = {L: 1259, R: 1889, T: 144, B: 486, x0: 8, x1: 16, y0: 0, y1: 3};
const sI = axes(gB, boxI, {xTicks: hourTicks, xLabels: hourLabels, xMinor: hourMinor, yTicks: insetYTicks, yLabels: insetYLabels, yMinor: [], xBase: 530, xSize: 51, yRight: 1240, yDrop: 13, ySize: 46, weight: 400, major: 10, minor: 6});
function insetSeries(runs, lineColor, dotColor, op, name) {
  runs.forEach(run => {
    const pts = run.map(p => sI.x(p[0]).toFixed(1) + ',' + sI.y(p[1]).toFixed(1)).join(' ');
    add(gB, 'polyline', {points: pts, fill: 'none', stroke: lineColor, 'stroke-width': 1.8, 'stroke-opacity': .75}, name + '-line');
    run.forEach(p => {
      add(gB, 'circle', {cx: sI.x(p[0]), cy: sI.y(p[1]), r: 8.8, fill: dotColor, 'fill-opacity': op}, name + '-point');
    });
  });
}
insetSeries(insetM4Runs, '#5050f0', '#3c3cff', .62, 'inset-m4');
insetSeries(insetM2Runs, '#f07070', '#ff4a4a', .55, 'inset-m2');

/* ---------- panel c ---------- */
const gC = document.getElementById('panelC');
const boxC = {L: 2243.7, R: 2974, T: 148.7, B: 819.5, x0: 0, x1: 10, y0: 0, y1: 10};
const sC = scales(boxC);
colorbar(gC, 2857, 494.6, 54.6, 305.4, eaColors.slice(0, 8).reverse(), 'ea-colorbar');
scatter(gC, sC, no2Band, 10, p => eaColors[p[2]], .68, 'no2-point');
scatter(gC, sC, no2Points, 10, p => eaColors[p[2]], .68, 'no2-point');
add(gC, 'line', {x1: sC.x(no2LineX[0]), x2: sC.x(no2LineX[1]), y1: sC.y(no2Slope * no2LineX[0] + no2Intercept), y2: sC.y(no2Slope * no2LineX[1] + no2Intercept), stroke: '#ff6060', 'stroke-width': 5, 'stroke-opacity': .9}, 'no2-fit-line');
axes(gC, boxC, {xTicks: cTicks, xLabels: cLabels, xMinor: cMinor, yTicks: cTicks, yLabels: cLabels, yMinor: cMinor, xBase: 890, xSize: 52, yRight: 2216, yDrop: 18, ySize: 52, major: 13, minor: 8});
add(gC, 'circle', {cx: 2311, cy: 182, r: 10, fill: '#ff6666'}, 'legend-marker');
add(gC, 'line', {x1: 2250, x2: 2374, y1: 259, y2: 259, stroke: '#ff7070', 'stroke-width': 8, 'stroke-linecap': 'round'}, 'legend-fit-line');
const cLegend = label(gC, 2387, 201, 'NO', 53, 'start', 700, 'legend-no2-label');
const cSub = add(cLegend, 'tspan', {'font-size': 35, dy: 11}, 'legend-no2-subscript');
cSub.textContent = '2';
const cRest = add(cLegend, 'tspan', {dy: -11}, 'legend-no2-rest');
cRest.textContent = ' dSCD: (M2,M4)';
label(gC, 2387, 276, 'Y=0.966X+1.71E15', 53, 'start', 700, 'fit-equation');
label(gC, 2387, 343, 'R = 0.996', 53, 'start', 700, 'correlation-label');
label(gC, 2826, 460, 'EAs', 68, 'start', 700, 'colorbar-title', 'italic');
label(gC, 2924, 526, '1', 39, 'start', 700, 'colorbar-top-label');
label(gC, 2915, 806, '30', 39, 'start', 700, 'colorbar-bottom-label');
label(gC, 2734, 803, '1E16', 55, 'start', 400, 'colorbar-unit-label');

/* ---------- panel d ---------- */
const gD = document.getElementById('panelD');
const boxD = {L: 153, R: 839, T: 1051, B: 1671, x0: 0, x1: 4, y0: 0, y1: 4};
const sD = scales(boxD);
scatter(gD, sD, o4Band, 10, p => eaColors[p[2]], .65, 'o4-point');
scatter(gD, sD, o4Points, 10, p => eaColors[p[2]], .65, 'o4-point');
add(gD, 'line', {x1: sD.x(o4LineX[0]), x2: sD.x(o4LineX[1]), y1: sD.y(o4Slope * o4LineX[0] + o4Intercept), y2: sD.y(o4Slope * o4LineX[1] + o4Intercept), stroke: '#ff0000', 'stroke-width': 5}, 'o4-fit-line');
axes(gD, boxD, {xTicks: dTicks, xLabels: dLabels, xMinor: dMinor, yTicks: dTicks, yLabels: dLabels, yMinor: dMinor, xBase: 1732, xSize: 46, yRight: 125, yDrop: 15, ySize: 46, major: 13, minor: 8});
colorbar(gD, 733, 1333, 56, 305, eaColors.slice(0, 8).reverse(), 'ea-colorbar');
add(gD, 'line', {x1: 158, x2: 277, y1: 1162, y2: 1162, stroke: '#ff0000', 'stroke-width': 10, 'stroke-linecap': 'round'}, 'legend-fit-line');
const dLegend = label(gD, 288, 1105, 'O', 51, 'start', 700, 'legend-o4-label');
const dSub = add(dLegend, 'tspan', {'font-size': 34, dy: 11}, 'legend-o4-subscript');
dSub.textContent = '4';
const dRest = add(dLegend, 'tspan', {dy: -11}, 'legend-o4-rest');
dRest.textContent = ' dSCD:(M2,M4)';
label(gD, 288, 1177, 'Y=0.974X+8.4E42', 51, 'start', 700, 'fit-equation');
label(gD, 301, 1243, 'R=0.994', 51, 'start', 700, 'correlation-label');
label(gD, 705, 1299, 'EAs', 65, 'start', 700, 'colorbar-title', 'italic');
label(gD, 794, 1371, '30', 38, 'start', 700, 'colorbar-top-label');
label(gD, 800, 1628, '1', 38, 'start', 700, 'colorbar-bottom-label');
label(gD, 608, 1642, '1E43', 54, 'start', 400, 'colorbar-unit-label');

/* ---------- panels e / f ---------- */
function aodPanel(g, box, points, lineX, lineY, yRight, leg) {
  const s = scales(box);
  scatter(g, s, points, 10, () => '#000', .7, 'aod-point');
  add(g, 'line', {x1: s.x(lineX[0]), x2: s.x(lineX[1]), y1: s.y(lineY[0]), y2: s.y(lineY[1]), stroke: '#ff0000', 'stroke-width': 5}, 'aod-fit-line');
  axes(g, box, {xTicks: aodTicks, xLabels: aodLabels, xMinor: aodMinor, yTicks: aodTicks, yLabels: aodLabels, yMinor: aodMinor, xBase: 1732, xSize: 46, yRight: yRight, yDrop: 15, ySize: 46, major: 13, minor: 8});
  add(g, 'circle', {cx: leg.dot[0], cy: leg.dot[1], r: 10, fill: '#000', 'fill-opacity': .72}, 'legend-marker');
  add(g, 'line', {x1: leg.line[0], x2: leg.line[1], y1: leg.line[2], y2: leg.line[2], stroke: '#ff0000', 'stroke-width': 10, 'stroke-linecap': 'round'}, 'legend-fit-line');
  label(g, leg.name[0], leg.name[1], leg.name[2], 51, 'start', 700, 'legend-label');
  label(g, leg.eq[0], leg.eq[1], leg.eq[2], 51, 'start', 700, 'fit-equation');
  label(g, leg.r[0], leg.r[1], leg.r[2], 51, 'start', 700, 'correlation-label');
}
aodPanel(document.getElementById('panelE'), {L: 1182, R: 1939, T: 1051, B: 1671, x0: 0, x1: 1, y0: 0, y1: 1}, aodM2M3, fitLineEX, fitLineEY, 1155, {
  dot: [1253, 1085], line: [1195, 1313, 1151],
  name: [1325, 1104, 'AOD:(M2,M3)'], eq: [1325, 1167, 'Y=0.969X-0.06'], r: [1337, 1232, 'R=0.869']
});
aodPanel(document.getElementById('panelF'), {L: 2228, R: 2984, T: 1051, B: 1671, x0: 0, x1: 1, y0: 0, y1: 1}, aodM4M3, fitLineFX, fitLineFY, 2200, {
  dot: [2289, 1087], line: [2232, 2350, 1152.5],
  name: [2362, 1106, 'AOD:(M4,M3)'], eq: [2361, 1169, 'Y=0.961X-0.4'], r: [2375, 1233, 'R=0.887']
});
</script>
</body>
</html>
